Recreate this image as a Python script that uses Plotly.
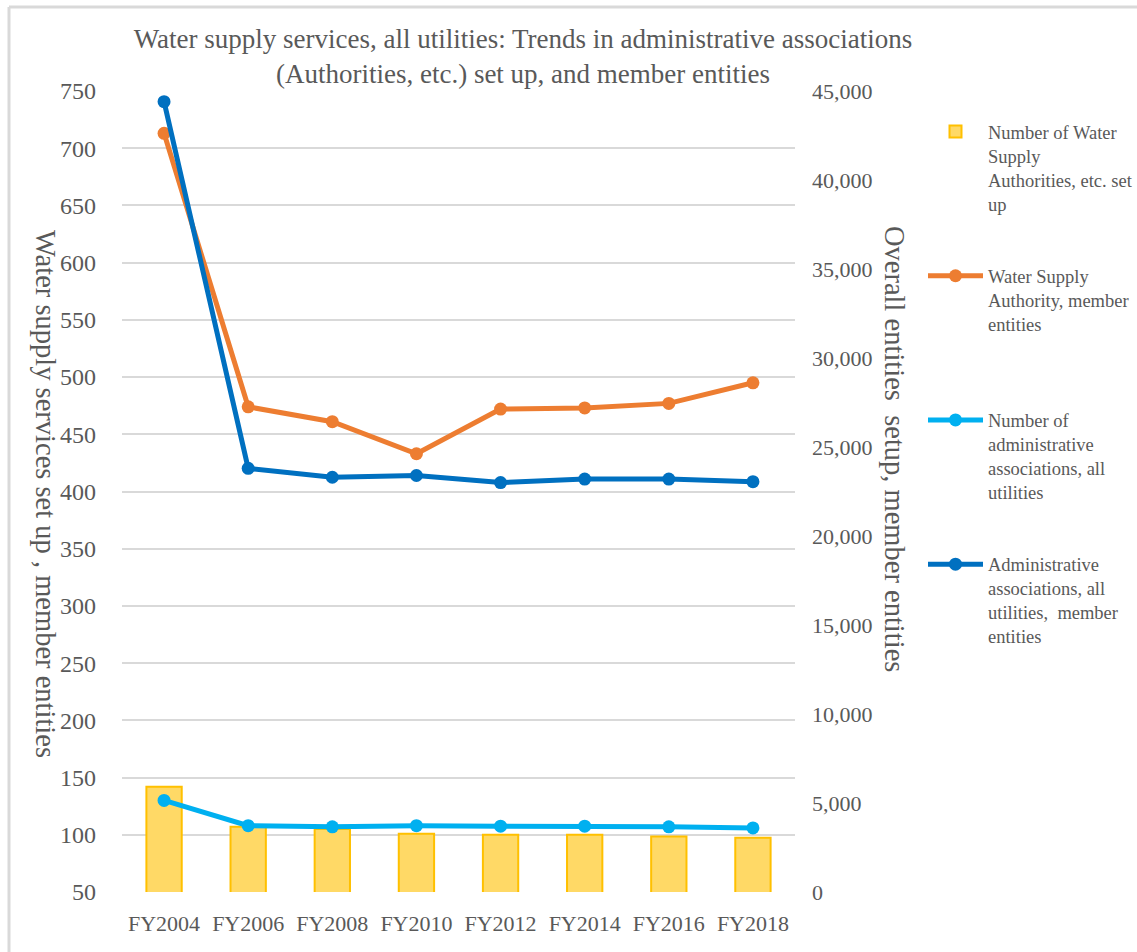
import plotly.graph_objects as go

# ---- data ----
years = ["FY2004", "FY2006", "FY2008", "FY2010", "FY2012", "FY2014", "FY2016", "FY2018"]
authorities_set_up = [142, 107, 105, 101, 100, 100, 98.5, 97.5]          # left axis (bars)
authority_member_entities = [713, 474, 461, 433, 472, 473, 477, 495]     # left axis (orange)
admin_assoc_count = [130, 108, 107, 108, 107.5, 107.5, 107, 106]         # left axis (light blue)
admin_assoc_member_entities = [44400, 23800, 23300, 23400, 23000, 23200, 23200, 23050]  # right axis

left_ticks = list(range(50, 751, 50))
right_ticks = list(range(0, 45001, 5000))

names = [
    "Number of Water<br>Supply<br>Authorities, etc. set<br>up",
    "Water Supply<br>Authority, member<br>entities<br> ",
    "Number of<br>administrative<br>associations, all<br>utilities",
    "Administrative<br>associations, all<br>utilities,  member<br>entities",
]

FONT = "Liberation Serif, Times New Roman, serif"
GREY = "#595959"

W, H = 1137, 952
ML, MR, MT, MB = 122, 342, 91, 60
PW, PH = W - ML - MR, H - MT - MB


def px_x(x):
    return (x - ML) / PW


def px_y(y):
    return (H - MB - y) / PH


fig = go.Figure()
fig.add_trace(go.Bar(
    x=years, y=authorities_set_up, name=names[0], yaxis="y",
    marker=dict(color="#FFD966", line=dict(color="#FFC000", width=2)),
    width=0.42, legendgroup="g1",
))
fig.add_trace(go.Scatter(
    x=years, y=authority_member_entities, name=names[1], yaxis="y",
    mode="lines+markers", line=dict(color="#ED7D31", width=5),
    marker=dict(size=13, color="#ED7D31"), legendgroup="g2",
))
fig.add_trace(go.Scatter(
    x=years, y=admin_assoc_count, name=names[2], yaxis="y",
    mode="lines+markers", line=dict(color="#00B0F0", width=5),
    marker=dict(size=13, color="#00B0F0"), legendgroup="g3",
))
fig.add_trace(go.Scatter(
    x=years, y=admin_assoc_member_entities, name=names[3], yaxis="y2",
    mode="lines+markers", line=dict(color="#0070C0", width=5),
    marker=dict(size=13, color="#0070C0"), legendgroup="g4",
))

fig.update_layout(
    width=W, height=H,
    margin=dict(l=ML, r=MR, t=MT, b=MB, pad=0, autoexpand=False),
    paper_bgcolor="white", plot_bgcolor="white",
    font=dict(family=FONT, color=GREY),
    title=dict(
        text="Water supply services, all utilities: Trends in administrative associations<br>(Authorities, etc.) set up, and member entities",
        x=523 / W, xanchor="center", y=1 - 48 / H, yanchor="top",
        font=dict(family=FONT, size=27, color=GREY),
    ),
    xaxis=dict(
        type="category", showline=False, showgrid=False, ticks="",
        tickfont=dict(family=FONT, size=22, color=GREY),
        ticklabelstandoff=16,
    ),
    yaxis=dict(
        range=[50, 750], tickvals=left_ticks, showline=False,
        showgrid=True, gridcolor="#D9D9D9", gridwidth=2,
        zeroline=False, ticks="",
        tickfont=dict(family=FONT, size=24, color=GREY),
        ticklabelstandoff=25,
    ),
    yaxis2=dict(
        range=[0, 45000], tickvals=right_ticks, tickformat=",d",
        overlaying="y", side="right", showgrid=False, showline=False,
        zeroline=False, ticks="",
        tickfont=dict(family=FONT, size=22, color=GREY),
        ticklabelstandoff=16,
    ),
    legend=dict(
        x=px_x(923), xanchor="left", y=px_y(113), yanchor="top",
        font=dict(family=FONT, size=18.5, color=GREY),
        itemwidth=55, valign="top", tracegroupgap=45,
        traceorder="grouped", bgcolor="rgba(0,0,0,0)",
    ),
    showlegend=True,
    annotations=[
        dict(text="Water supply services set up , member entities",
             xref="paper", yref="paper", x=px_x(46), y=px_y(494),
             xanchor="center", yanchor="middle", textangle=90, showarrow=False,
             font=dict(family=FONT, size=28.5, color=GREY)),
        dict(text="Overall entities  setup, member entities",
             xref="paper", yref="paper", x=px_x(895), y=px_y(449),
             xanchor="center", yanchor="middle", textangle=90, showarrow=False,
             font=dict(family=FONT, size=28.5, color=GREY)),
    ],
    shapes=[
        dict(type="line", xref="paper", yref="paper",
             x0=px_x(9), x1=px_x(W + 5), y0=px_y(7), y1=px_y(7),
             line=dict(color="#D9D9D9", width=3)),
        dict(type="line", xref="paper", yref="paper",
             x0=px_x(9), x1=px_x(9), y0=px_y(7), y1=px_y(H + 5),
             line=dict(color="#D9D9D9", width=3)),
    ],
)

fig.write_html("out.html")
